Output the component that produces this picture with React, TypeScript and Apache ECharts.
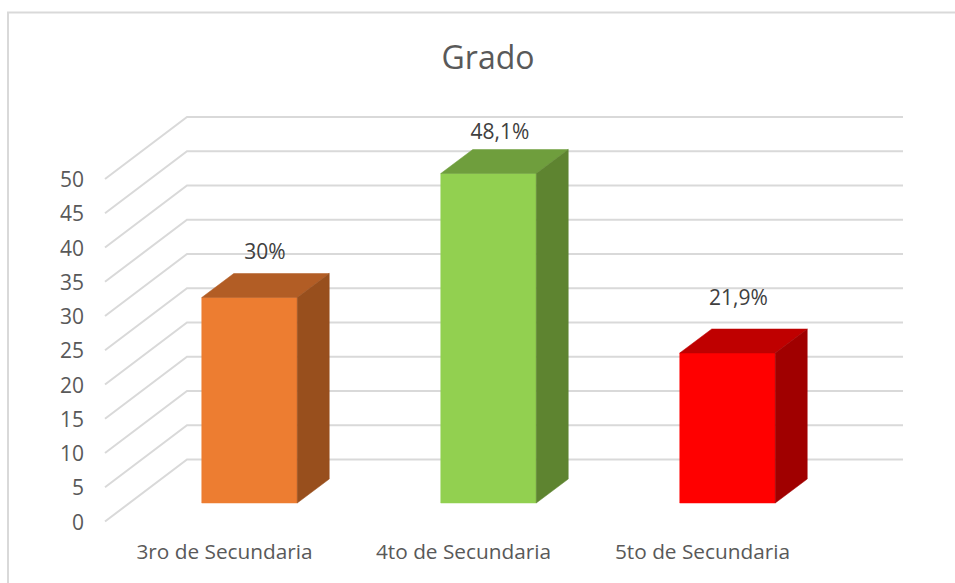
import React, { useEffect, useRef } from "react";
import * as echarts from "echarts";

const titleText = "Grado";
const categories = ["3ro de Secundaria", "4to de Secundaria", "5to de Secundaria"];
const values = [30, 48.1, 21.9];
const valueLabels = ["30%", "48,1%", "21,9%"];
const yTicks = [0, 5, 10, 15, 20, 25, 30, 35, 40, 45, 50];

const frontColors = ["#ed7d31", "#92d050", "#ff0000"];
const topColors = ["#b25d25", "#6f9e3d", "#bf0000"];
const sideColors = ["#984f1d", "#5e8430", "#a00000"];

const FONT = "'Open Sans', sans-serif";
const WALL_DX = 82;
const WALL_DY = 62;
const BAR_SHIFT_X = 25;
const BAR_SHIFT_Y = 18.5;
const BAR_W = 95.5;
const DEPTH_X = 32;
const DEPTH_Y = 24;
const labelLift = [47, 43, 56];
const labelShift = [15.5, 11.5, 11];

const poly = (points: number[][], fill: string) => ({
  type: "polygon",
  shape: { points },
  style: { fill, stroke: fill, lineWidth: 0.5 },
});

export default function App() {
  const ref = useRef<HTMLDivElement>(null);

  useEffect(() => {
    document.body.style.margin = "0";
    document.body.style.overflow = "hidden";
    const chart = echarts.init(ref.current!, undefined, { renderer: "svg" });
    chart.setOption({
      animation: false,
      backgroundColor: "#ffffff",
      title: {
        text: titleText,
        left: 483,
        top: 35,
        textAlign: "center",
        textStyle: { fontFamily: FONT, fontSize: 32, fontWeight: "normal", color: "#595959" },
      },
      grid: { left: 105, top: 179, width: 717, height: 342.5 },
      xAxis: {
        type: "category",
        data: categories,
        axisLine: { show: false },
        axisTick: { show: false },
        splitLine: { show: false },
        axisLabel: { fontFamily: FONT, fontSize: 20.8, color: "#595959", margin: 18.5 },
      },
      yAxis: {
        type: "value",
        min: 0,
        max: 50,
        interval: 5,
        axisLine: { show: false },
        axisTick: { show: false },
        splitLine: { show: false },
        axisLabel: { fontFamily: FONT, fontSize: 21, color: "#595959", margin: 21 },
      },
      graphic: [
        {
          type: "polyline",
          shape: { points: [[8, 583], [8, 12.5], [955, 12.5]] },
          style: { stroke: "#d9d9d9", lineWidth: 2, fill: "none" },
          silent: true,
        },
      ],
      series: [
        {
          type: "custom",
          silent: true,
          z: 1,
          clip: false,
          data: yTicks.map((t) => [0, t]),
          renderItem: (params: any, api: any) => {
            const y = api.coord([0, api.value(1)])[1];
            const cs = params.coordSys;
            return {
              type: "polyline",
              shape: {
                points: [
                  [cs.x, y],
                  [cs.x + WALL_DX, y - WALL_DY],
                  [cs.x + cs.width + WALL_DX - 1, y - WALL_DY],
                ],
              },
              style: { stroke: "#d9d9d9", lineWidth: 2, fill: "none" },
            };
          },
        },
        {
          type: "custom",
          silent: true,
          z: 2,
          clip: false,
          data: categories.map((c, i) => [i, values[i]]),
          renderItem: (params: any, api: any) => {
            const i = params.dataIndex;
            const top = api.coord([api.value(0), api.value(1)]);
            const base = api.coord([api.value(0), 0]);
            const l = top[0] + BAR_SHIFT_X - BAR_W / 2;
            const r = l + BAR_W;
            const t = top[1] - BAR_SHIFT_Y;
            const b = base[1] - BAR_SHIFT_Y;
            return {
              type: "group",
              children: [
                poly([[l, t], [r, t], [r, b], [l, b]], frontColors[i]),
                poly([[l, t], [l + DEPTH_X, t - DEPTH_Y], [r + DEPTH_X, t - DEPTH_Y], [r, t]], topColors[i]),
                poly([[r, t], [r + DEPTH_X, t - DEPTH_Y], [r + DEPTH_X, b - DEPTH_Y], [r, b]], sideColors[i]),
                {
                  type: "text",
                  x: l + BAR_W / 2 + labelShift[i],
                  y: t - labelLift[i],
                  style: {
                    text: valueLabels[i],
                    fontFamily: FONT,
                    fontSize: 21,
                    fill: "#404040",
                    align: "center",
                    verticalAlign: "middle",
                  },
                },
              ],
            };
          },
        },
      ],
    });
    return () => chart.dispose();
  }, []);

  return <div ref={ref} style={{ width: 955, height: 583 }} />;
}
